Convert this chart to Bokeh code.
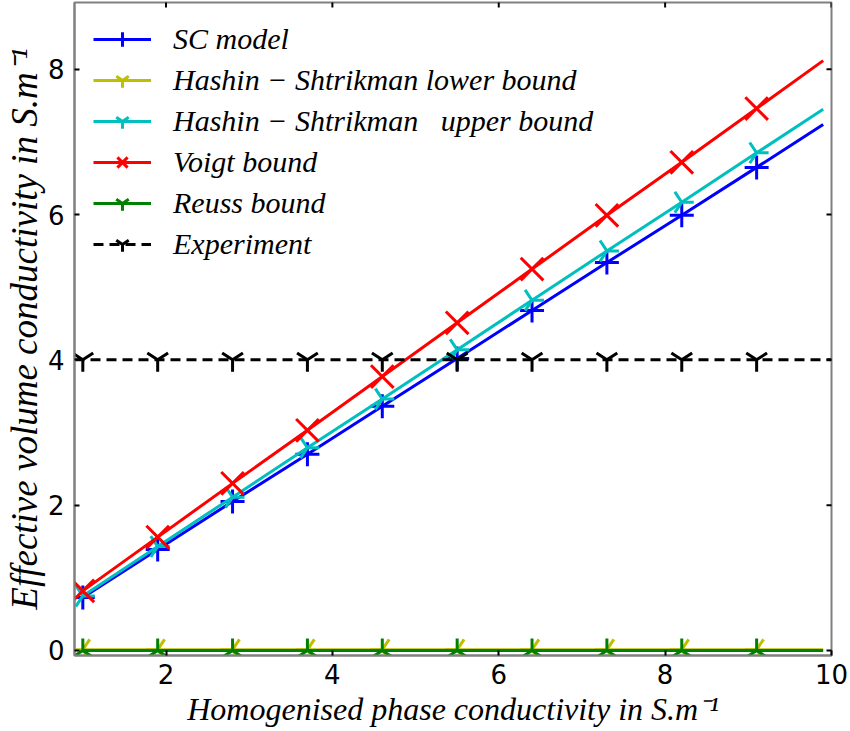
import numpy as np
from bokeh.plotting import figure
from bokeh.models import Legend, LegendItem, FixedTicker, Range1d
from bokeh.embed import file_html
from bokeh.resources import INLINE

# ---- data ----
x_vals = [1.0, 1.9, 2.8, 3.7, 4.6, 5.5, 6.4, 7.3, 8.2, 9.1, 9.9]
sc_model = [0.73, 1.39, 2.05, 2.70, 3.36, 4.02, 4.68, 5.34, 5.99, 6.65, 7.24]
hs_lower = [0.01, 0.01, 0.01, 0.01, 0.01, 0.01, 0.01, 0.01, 0.01, 0.01, 0.01]
hs_upper = [0.75, 1.43, 2.11, 2.79, 3.46, 4.14, 4.82, 5.50, 6.17, 6.85, 7.45]
voigt = [0.82, 1.56, 2.30, 3.03, 3.77, 4.51, 5.25, 5.99, 6.72, 7.46, 8.12]
reuss = [0.0, 0.0, 0.0, 0.0, 0.0, 0.0, 0.0, 0.0, 0.0, 0.0, 0.0]
exp_x = [0.9, 1.0, 1.9, 2.8, 3.7, 4.6, 5.5, 6.4, 7.3, 8.2, 9.1, 10.0]
experiment = [4.0, 4.0, 4.0, 4.0, 4.0, 4.0, 4.0, 4.0, 4.0, 4.0, 4.0, 4.0]
x_ticks = [2, 4, 6, 8, 10]
y_ticks = [0, 2, 4, 6, 8]

labels = ["SC model", "Hashin − Shtrikman lower bound",
          "Hashin − Shtrikman   upper bound", "Voigt bound",
          "Reuss bound", "Experiment"]

SERIF = "Liberation Serif"
SANS = "DejaVu Sans"
X0, X1 = 0.9, 10.0
Y0, Y1 = -0.07, 8.92

p = figure(width=850, height=731, output_backend="svg", toolbar_location=None,
           x_range=Range1d(X0, X1), y_range=Range1d(Y0, Y1),
           min_border_left=69, min_border_right=19, min_border_top=2,
           min_border_bottom=76)
p.xgrid.visible = False
p.ygrid.visible = False
p.outline_line_color = "#808080"
p.outline_line_width = 2
p.background_fill_color = "white"
p.border_fill_color = "white"

def style_axis(ax, ticks):
    ax.ticker = FixedTicker(ticks=ticks)
    ax.major_tick_in = 5
    ax.major_tick_out = 0
    ax.major_tick_line_color = "black"
    ax.major_tick_line_width = 2
    ax.minor_tick_line_color = None
    ax.axis_line_color = "#808080"
    ax.axis_line_width = 2
    ax.major_label_text_font = SANS
    ax.major_label_text_font_size = "26px"
    ax.major_label_text_color = "black"

style_axis(p.xaxis[0], x_ticks)
style_axis(p.yaxis[0], y_ticks)
p.xaxis[0].major_label_standoff = 8
p.yaxis[0].major_label_standoff = 10

p.xaxis[0].axis_label = "Homogenised phase conductivity in S.m⁻¹"
p.yaxis[0].axis_label = "Effective volume conductivity in S.m⁻¹"
for ax in (p.xaxis[0], p.yaxis[0]):
    ax.axis_label_text_font = SERIF
    ax.axis_label_text_font_style = "italic"
    ax.axis_label_text_color = "black"
p.xaxis[0].axis_label_text_font_size = "32px"
p.yaxis[0].axis_label_text_font_size = "37px"
p.xaxis[0].axis_label_standoff = 4
p.yaxis[0].axis_label_standoff = 0

# inward tick marks on the top and right edges (half of each dash is clipped)
p.scatter(x_ticks, [Y1] * len(x_ticks), marker="dash", size=10, angle=np.pi / 2,
          line_color="black", line_width=2)
p.scatter([X1] * len(y_ticks), y_ticks, marker="dash", size=10,
          line_color="black", line_width=2)

LW = 3
items = []

def series(x, y, color, marker, angle, size, label, dash="solid", mx=None, my=None):
    ln = p.line(x, y, line_color=color, line_width=LW, line_dash=dash)
    if mx is None:
        mx, my = x[:-1], y[:-1]
    sc = p.scatter(mx, my, marker=marker, size=size, angle=angle,
                   line_color=color, line_width=LW, fill_color=None)
    items.append(LegendItem(label=label, renderers=[ln, sc]))

series(x_vals, sc_model, "#0000ff", "cross", 0.0, 24, labels[0])
series(x_vals, hs_lower, "#bfbf00", "y", -np.pi / 2, 24, labels[1])
series(x_vals, hs_upper, "#00bfbf", "y", np.pi / 2, 24, labels[2])
series(x_vals, voigt, "#ff0000", "x", 0.0, 32, labels[3])
series(x_vals, reuss, "#008000", "y", np.pi, 24, labels[4])
series(exp_x, experiment, "black", "y", 0.0, 24, labels[5], dash="10 6",
       mx=exp_x[1:-1], my=experiment[1:-1])

legend = Legend(items=items, location="top_left")
legend.label_text_font = SERIF
legend.label_text_font_style = "italic"
legend.label_text_font_size = "30px"
legend.label_text_color = "black"
legend.background_fill_alpha = 0
legend.border_line_color = None
legend.glyph_width = 58
legend.glyph_height = 36
legend.label_height = 36
legend.spacing = 5
legend.label_standoff = 22
legend.margin = 19
legend.padding = 10
p.add_layout(legend)

open("out.html", "w").write(file_html(p, INLINE))
